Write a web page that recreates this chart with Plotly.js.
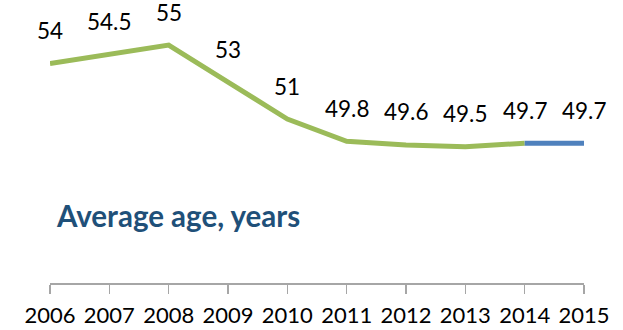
<!DOCTYPE html>
<html>
<head>
<meta charset="utf-8">
<script src="https://cdn.plot.ly/plotly-3.0.1.min.js"></script>
<style>html,body{margin:0;padding:0;background:#fff;}#chart{width:623px;height:330px;}</style>
</head>
<body>
<div id="chart"></div>
<script>
const years = [2006, 2007, 2008, 2009, 2010, 2011, 2012, 2013, 2014, 2015];
const averageAge = [54, 54.5, 55, 53, 51, 49.8, 49.6, 49.5, 49.7, 49.7];
const labels = ['54', '54.5', '55', '53', '51', '49.8', '49.6', '49.5', '49.7', '49.7'];
const chartTitle = 'Average age, years';

const greenX = years.slice(0, 9), greenY = averageAge.slice(0, 9);
const blueX = years.slice(8), blueY = averageAge.slice(8);

const traces = [
  {x: greenX, y: greenY, type: 'scatter', mode: 'lines', line: {color: '#9BBB59', width: 5}, hoverinfo: 'skip'},
  {x: blueX, y: blueY, type: 'scatter', mode: 'lines', line: {color: '#4F81BD', width: 5}, hoverinfo: 'skip'}
];

const annotations = years.map((yr, i) => ({
  x: yr, y: averageAge[i], xref: 'x', yref: 'y', text: labels[i], showarrow: false,
  xanchor: 'center', yanchor: 'middle', yshift: 33,
  font: {family: 'Lato, sans-serif', size: 22.5, color: '#000'}
}));
annotations.push({
  x: 0.008, y: 0.245, xref: 'paper', yref: 'paper', text: '<b>' + chartTitle + '</b>', showarrow: false,
  xanchor: 'left', yanchor: 'middle',
  font: {family: 'Lato, sans-serif', size: 29.5, color: '#1F5079'}
});

const layout = {
  width: 623, height: 330,
  margin: {l: 50, r: 39, t: 9, b: 47},
  paper_bgcolor: '#fff', plot_bgcolor: '#fff',
  showlegend: false,
  xaxis: {
    range: [2006, 2015], tickmode: 'array', tickvals: years, ticktext: years.map(String),
    showline: true, linecolor: '#A6A6A6', linewidth: 1.5, showgrid: false, zeroline: false,
    ticks: 'outside', ticklen: 9, tickcolor: '#A6A6A6', tickwidth: 1.5, ticklabelstandoff: 3,
    tickfont: {family: 'Lato, sans-serif', size: 22, color: '#000'}
  },
  yaxis: {range: [42.14, 56.95], visible: false, showgrid: false, zeroline: false},
  annotations: annotations
};

Plotly.newPlot('chart', traces, layout, {staticPlot: true, displayModeBar: false});
</script>
</body>
</html>
